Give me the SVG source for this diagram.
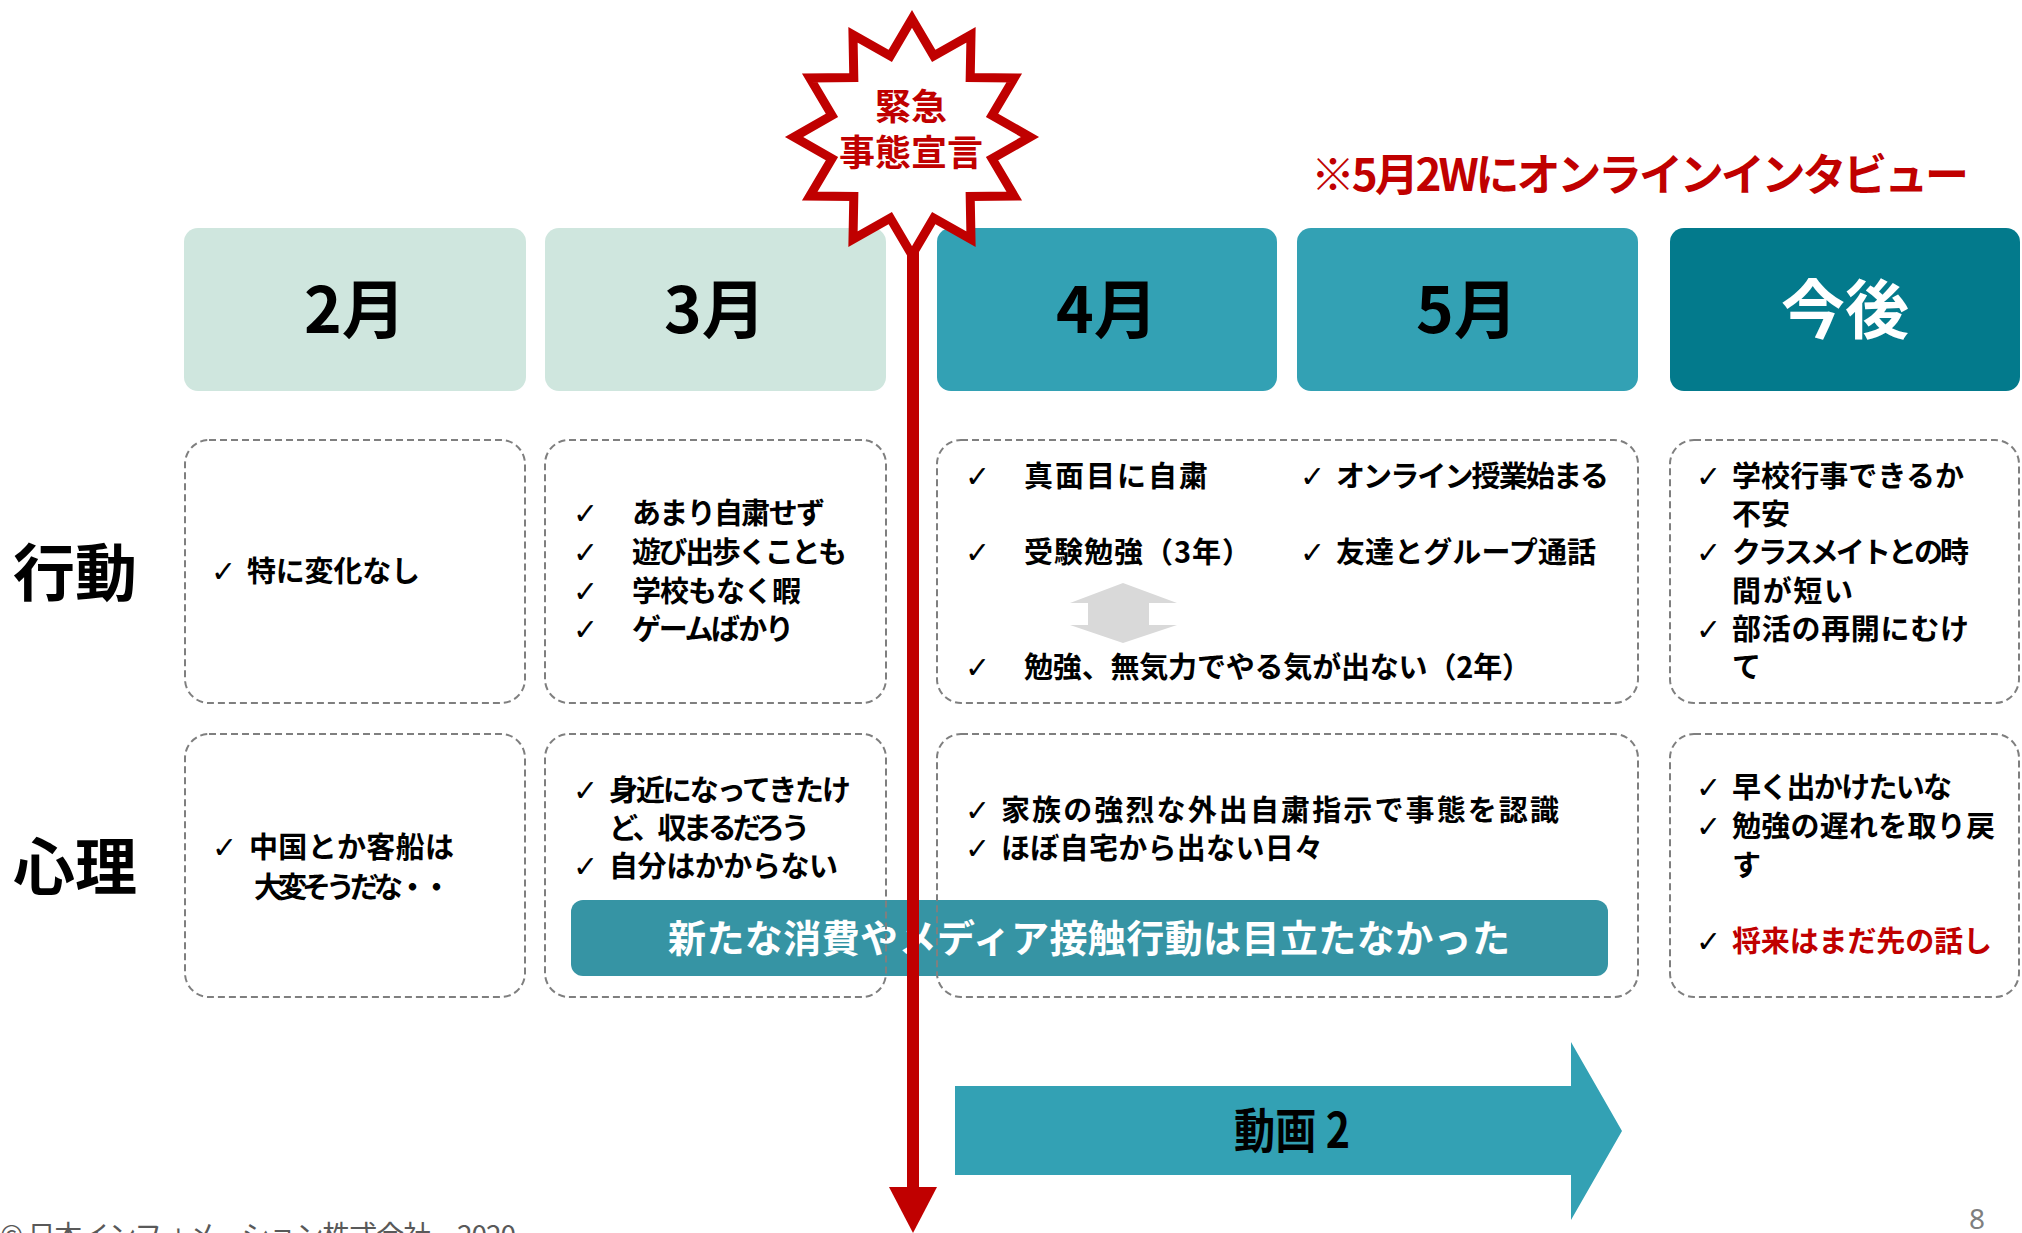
<svg xmlns="http://www.w3.org/2000/svg" width="2022" height="1233" viewBox="0 0 2022 1233">
<defs>
<style>
.hd{font-family:"Noto Sans CJK JP","Noto Sans",sans-serif;font-weight:700;font-size:64px;text-anchor:middle}
.lbl{font-family:"Noto Sans CJK JP","Noto Sans",sans-serif;font-weight:700;font-size:62px;fill:#000}
.t{font-family:"Noto Sans CJK JP","Noto Sans",sans-serif;font-weight:700;font-size:29px;fill:#000}
.red{fill:#C00000}
.ck{font-family:"DejaVu Sans",sans-serif;font-size:30px;fill:#000}
.cell{fill:#fff;stroke:#7F7F7F;stroke-width:2;stroke-dasharray:7 4}
.light{fill:#CFE6DE}
.mid{fill:#33A1B4}
.dark{fill:#037A8C}
.st{font-family:"Noto Sans CJK JP","Noto Sans",sans-serif;font-weight:700;font-size:36px;fill:#C00000;text-anchor:middle}
</style>
</defs>
<rect width="2022" height="1233" fill="#fff"/>

<g id="header-feb"><rect class="light" x="184" y="228" width="342" height="163" rx="14"/><text class="hd" x="355" y="333" fill="#000">2月</text></g>
<g id="header-mar"><rect class="light" x="545" y="228" width="341" height="163" rx="14"/><text class="hd" x="715" y="333" fill="#000">3月</text></g>
<g id="header-apr"><rect class="mid" x="937" y="228" width="340" height="163" rx="14"/><text class="hd" x="1107" y="333" fill="#000">4月</text></g>
<g id="header-may"><rect class="mid" x="1297" y="228" width="341" height="163" rx="14"/><text class="hd" x="1467" y="333" fill="#000">5月</text></g>
<g id="header-future"><rect class="dark" x="1670" y="228" width="350" height="163" rx="14"/><text class="hd" x="1845" y="333" fill="#fff">今後</text></g>

<g id="note"><text x="1311" y="191" font-family="'Noto Sans CJK JP','Noto Sans',sans-serif" font-weight="700" font-size="44" fill="#C00000" textLength="658">※5月2Wにオンラインインタビュー</text></g>

<g id="label-behavior"><text class="lbl" x="13" y="596">行動</text></g>
<g id="label-mind"><text class="lbl" x="13" y="890">心理</text></g>

<g id="bar-summary"><rect x="571" y="900" width="1037" height="76" rx="12" fill="#3694A4"/><text x="1089" y="952" text-anchor="middle" font-family="'Noto Sans CJK JP','Noto Sans',sans-serif" font-weight="700" font-size="38" fill="#fff" textLength="842">新たな消費やメディア接触行動は目立たなかった</text></g>

<g id="cell-feb-behavior"><rect class="cell" x="185" y="440" width="340" height="263" rx="24"/>
<text class="ck" x="211" y="582">✓</text><text class="t" x="247" y="582" textLength="173">特に変化なし</text></g>

<g id="cell-mar-behavior"><rect class="cell" x="545" y="440" width="341" height="263" rx="24"/>
<text class="ck" x="573" y="524">✓</text><text class="t" x="632" y="524" textLength="193">あまり自粛せず</text>
<text class="ck" x="573" y="563">✓</text><text class="t" x="632" y="563" textLength="215">遊び出歩くことも</text>
<text class="ck" x="573" y="602">✓</text><text class="t" x="632" y="602" textLength="169">学校もなく暇</text>
<text class="ck" x="573" y="640">✓</text><text class="t" x="632" y="640" textLength="162">ゲームばかり</text></g>

<g id="cell-aprmay-behavior"><rect class="cell" x="937" y="440" width="701" height="263" rx="24"/>
<text class="ck" x="965" y="487">✓</text><text class="t" x="1024" y="487" textLength="184">真面目に自粛</text>
<text class="ck" x="1300" y="487">✓</text><text class="t" x="1336" y="487" textLength="273">オンライン授業始まる</text>
<text class="ck" x="965" y="563">✓</text><text class="t" x="1024" y="563" textLength="227">受験勉強（3年）</text>
<text class="ck" x="1300" y="563">✓</text><text class="t" x="1336" y="563" textLength="260">友達とグループ通話</text>
<polygon points="1123,583 1177,603 1149,603 1149,625 1177,625 1123,643 1070,625 1088,625 1088,603 1070,603" fill="#D9D9D9"/>
<text class="ck" x="965" y="678">✓</text><text class="t" x="1024" y="678" textLength="507">勉強、無気力でやる気が出ない（2年）</text></g>

<g id="cell-future-behavior"><rect class="cell" x="1670" y="440" width="349" height="263" rx="24"/>
<text class="ck" x="1696" y="487">✓</text><text class="t" x="1732" y="487" textLength="232">学校行事できるか</text>
<text class="t" x="1732" y="525">不安</text>
<text class="ck" x="1696" y="563">✓</text><text class="t" x="1732" y="563" textLength="237">クラスメイトとの時</text>
<text class="t" x="1732" y="602" textLength="121">間が短い</text>
<text class="ck" x="1696" y="640">✓</text><text class="t" x="1732" y="640" textLength="237">部活の再開にむけ</text>
<text class="t" x="1732" y="678">て</text></g>

<g id="cell-feb-mind"><rect class="cell" x="185" y="734" width="340" height="263" rx="24"/>
<text class="ck" x="212" y="858">✓</text><text class="t" x="249" y="858" textLength="205">中国とか客船は</text>
<text class="t" x="254" y="898" textLength="197">大変そうだな・・</text></g>

<g id="cell-mar-mind"><rect class="cell" x="545" y="734" width="341" height="263" rx="24" style="fill:none"/>
<text class="ck" x="573" y="801">✓</text><text class="t" x="609" y="801" textLength="242">身近になってきたけ</text>
<text class="t" x="609" y="839" textLength="201">ど、収まるだろう</text>
<text class="ck" x="573" y="877">✓</text><text class="t" x="609" y="877" textLength="229">自分はかからない</text></g>

<g id="cell-aprmay-mind"><rect class="cell" x="937" y="734" width="701" height="263" rx="24" style="fill:none"/>
<text class="ck" x="965" y="821">✓</text><text class="t" x="1001" y="821" textLength="558">家族の強烈な外出自粛指示で事態を認識</text>
<text class="ck" x="965" y="859">✓</text><text class="t" x="1001" y="859" textLength="322">ほぼ自宅から出ない日々</text></g>

<g id="cell-future-mind"><rect class="cell" x="1670" y="734" width="349" height="263" rx="24"/>
<text class="ck" x="1696" y="798">✓</text><text class="t" x="1732" y="798" textLength="220">早く出かけたいな</text>
<text class="ck" x="1696" y="837">✓</text><text class="t" x="1732" y="837" textLength="263">勉強の遅れを取り戻</text>
<text class="t" x="1732" y="876">す</text>
<text class="ck red" x="1696" y="952">✓</text><text class="t red" x="1732" y="952" textLength="260">将来はまだ先の話し</text></g>

<g id="video2"><polygon points="955,1086 1571,1086 1571,1042 1622,1131 1571,1220 1571,1175 955,1175" class="mid"/><text x="1292" y="1148" text-anchor="middle" font-family="'Noto Sans CJK JP','Noto Sans',sans-serif" font-weight="700" font-size="48" fill="#000" textLength="116" lengthAdjust="spacingAndGlyphs">動画 2</text></g>

<g id="connectors">
<line x1="913" y1="240" x2="913" y2="1192" stroke="#C00000" stroke-width="12"/>
<polygon points="889,1187 937,1187 913,1233" fill="#C00000"/>
</g>

<g id="emergency">
<polygon points="912,19 933.7,55.9 971,34.8 970.2,77.6 1014.2,78 992.1,115.3 1030,137 992.1,158.7 1014.2,196 970.2,196.4 971,239.2 933.7,218.1 912,255 890.3,218.1 853,239.2 853.8,196.4 809.8,196 831.9,158.7 794,137 831.9,115.3 809.8,78 853.8,77.6 853,34.8 890.3,55.9" fill="#fff" stroke="#C00000" stroke-width="9" stroke-linejoin="miter"/>
<text class="st" x="911" y="120">緊急</text>
<text class="st" x="911" y="166">事態宣言</text>
</g>

<g id="footer">
<text x="0" y="1246" font-family="'Noto Sans CJK JP','Noto Sans',sans-serif" font-size="28" fill="#595959" textLength="516">© 日本インフォメーション株式会社　2020</text>
<text x="1977" y="1229" text-anchor="middle" font-family="'Noto Sans','Noto Sans CJK JP',sans-serif" font-size="28" fill="#7F7F7F">8</text>
</g>
</svg>
